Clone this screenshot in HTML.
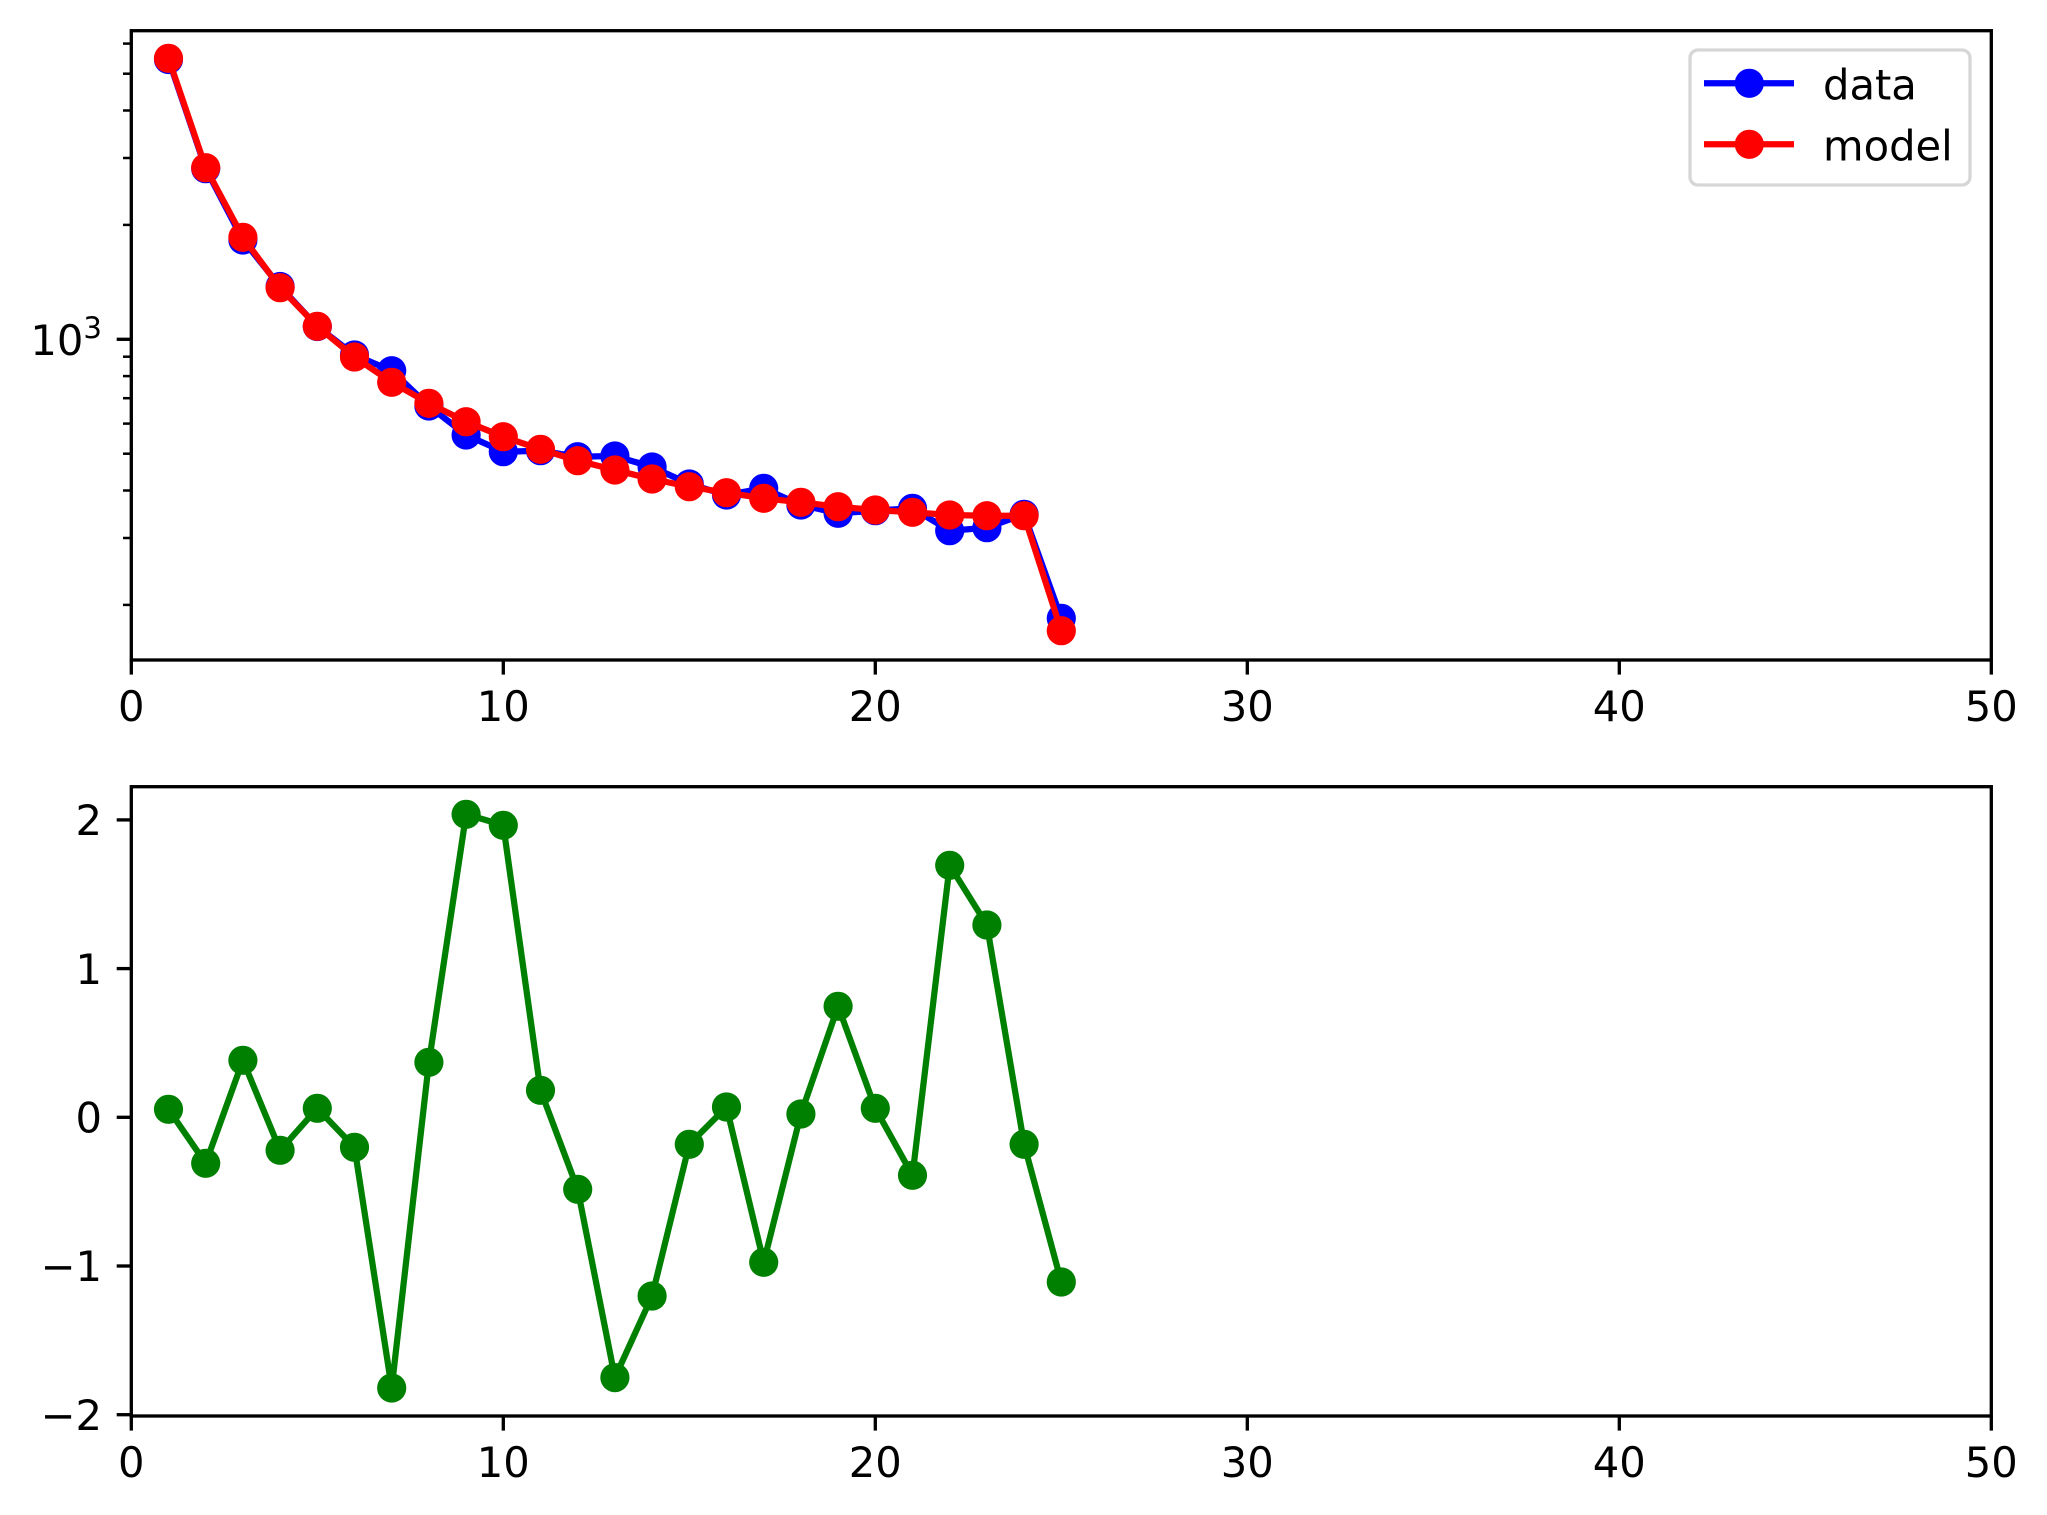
<!DOCTYPE html>
<html>
<head>
<meta charset="utf-8">
<style>
html,body{margin:0;padding:0;background:#fff;}
svg{display:block;}
text{font-family:"DejaVu Sans","Liberation Sans",sans-serif;fill:#000;}
</style>
</head>
<body>
<svg width="2047" height="1515" viewBox="0 0 2047 1515" xmlns="http://www.w3.org/2000/svg">
<rect x="0" y="0" width="2047" height="1515" fill="#fff"/>

<!-- ===== Upper axes ===== -->
<!-- data (blue) -->
<polyline fill="none" stroke="#0000ff" stroke-width="6.25" stroke-linejoin="round"
 points="168.5,59.5 205.7,168.7 242.9,240 280.1,286.5 317.3,326.5 354.5,355 391.7,370.7 428.9,406 466.1,435 503.3,451.7 540.5,450.7 577.7,456.7 614.9,456 652.1,467 689.3,484 726.5,495 763.7,488.3 800.9,505 838.1,513.3 875.3,510.7 912.5,508.3 949.7,530.7 986.9,527.7 1024.1,514.3 1061.3,618.3"/>
<g fill="#0000ff">
<circle cx="168.5" cy="59.5" r="14.6"/><circle cx="205.7" cy="168.7" r="14.6"/><circle cx="242.9" cy="240" r="14.6"/><circle cx="280.1" cy="286.5" r="14.6"/><circle cx="317.3" cy="326.5" r="14.6"/><circle cx="354.5" cy="355" r="14.6"/><circle cx="391.7" cy="370.7" r="14.6"/><circle cx="428.9" cy="406" r="14.6"/><circle cx="466.1" cy="435" r="14.6"/><circle cx="503.3" cy="451.7" r="14.6"/><circle cx="540.5" cy="450.7" r="14.6"/><circle cx="577.7" cy="456.7" r="14.6"/><circle cx="614.9" cy="456" r="14.6"/><circle cx="652.1" cy="467" r="14.6"/><circle cx="689.3" cy="484" r="14.6"/><circle cx="726.5" cy="495" r="14.6"/><circle cx="763.7" cy="488.3" r="14.6"/><circle cx="800.9" cy="505" r="14.6"/><circle cx="838.1" cy="513.3" r="14.6"/><circle cx="875.3" cy="510.7" r="14.6"/><circle cx="912.5" cy="508.3" r="14.6"/><circle cx="949.7" cy="530.7" r="14.6"/><circle cx="986.9" cy="527.7" r="14.6"/><circle cx="1024.1" cy="514.3" r="14.6"/><circle cx="1061.3" cy="618.3" r="14.6"/>
</g>
<!-- model (red) -->
<polyline fill="none" stroke="#ff0000" stroke-width="6.25" stroke-linejoin="round"
 points="168.5,58.3 205.7,167.7 242.9,237.3 280.1,287.7 317.3,326.3 354.5,357 391.7,382.3 428.9,403.3 466.1,421.7 503.3,436.7 540.5,449.3 577.7,460.7 614.9,470 652.1,479 689.3,486.7 726.5,492.7 763.7,498.3 800.9,502.3 838.1,506.7 875.3,510 912.5,512.3 949.7,515 986.9,515.7 1024.1,515.7 1061.3,630.7"/>
<g fill="#ff0000">
<circle cx="168.5" cy="58.3" r="14.6"/><circle cx="205.7" cy="167.7" r="14.6"/><circle cx="242.9" cy="237.3" r="14.6"/><circle cx="280.1" cy="287.7" r="14.6"/><circle cx="317.3" cy="326.3" r="14.6"/><circle cx="354.5" cy="357" r="14.6"/><circle cx="391.7" cy="382.3" r="14.6"/><circle cx="428.9" cy="403.3" r="14.6"/><circle cx="466.1" cy="421.7" r="14.6"/><circle cx="503.3" cy="436.7" r="14.6"/><circle cx="540.5" cy="449.3" r="14.6"/><circle cx="577.7" cy="460.7" r="14.6"/><circle cx="614.9" cy="470" r="14.6"/><circle cx="652.1" cy="479" r="14.6"/><circle cx="689.3" cy="486.7" r="14.6"/><circle cx="726.5" cy="492.7" r="14.6"/><circle cx="763.7" cy="498.3" r="14.6"/><circle cx="800.9" cy="502.3" r="14.6"/><circle cx="838.1" cy="506.7" r="14.6"/><circle cx="875.3" cy="510" r="14.6"/><circle cx="912.5" cy="512.3" r="14.6"/><circle cx="949.7" cy="515" r="14.6"/><circle cx="986.9" cy="515.7" r="14.6"/><circle cx="1024.1" cy="515.7" r="14.6"/><circle cx="1061.3" cy="630.7" r="14.6"/>
</g>

<!-- upper spines -->
<rect x="131.3" y="30.7" width="1860" height="629.3" fill="none" stroke="#000" stroke-width="3.33" stroke-linejoin="miter"/>

<!-- upper x ticks -->
<g stroke="#000" stroke-width="3.33">
<line x1="131.3" y1="660" x2="131.3" y2="674.6"/>
<line x1="503.3" y1="660" x2="503.3" y2="674.6"/>
<line x1="875.3" y1="660" x2="875.3" y2="674.6"/>
<line x1="1247.3" y1="660" x2="1247.3" y2="674.6"/>
<line x1="1619.3" y1="660" x2="1619.3" y2="674.6"/>
<line x1="1991.3" y1="660" x2="1991.3" y2="674.6"/>
<!-- major y tick 10^3 -->
<line x1="116.7" y1="339.3" x2="131.3" y2="339.3"/>
</g>
<!-- minor y ticks -->
<g stroke="#000" stroke-width="2.5">
<line x1="123" y1="604.9" x2="131.3" y2="604.9"/>
<line x1="123" y1="538.0" x2="131.3" y2="538.0"/>
<line x1="123" y1="490.5" x2="131.3" y2="490.5"/>
<line x1="123" y1="453.7" x2="131.3" y2="453.7"/>
<line x1="123" y1="423.6" x2="131.3" y2="423.6"/>
<line x1="123" y1="398.2" x2="131.3" y2="398.2"/>
<line x1="123" y1="376.1" x2="131.3" y2="376.1"/>
<line x1="123" y1="356.7" x2="131.3" y2="356.7"/>
<line x1="123" y1="224.9" x2="131.3" y2="224.9"/>
<line x1="123" y1="158.0" x2="131.3" y2="158.0"/>
<line x1="123" y1="110.5" x2="131.3" y2="110.5"/>
<line x1="123" y1="73.7" x2="131.3" y2="73.7"/>
<line x1="123" y1="43.6" x2="131.3" y2="43.6"/>
</g>

<!-- upper tick labels -->
<g font-size="41.67" text-anchor="middle">
<text x="131.3" y="721">0</text>
<text x="503.3" y="721">10</text>
<text x="875.3" y="721">20</text>
<text x="1247.3" y="721">30</text>
<text x="1619.3" y="721">40</text>
<text x="1991.3" y="721">50</text>
</g>
<text x="102" y="355" font-size="41.67" text-anchor="end">10<tspan dy="-17" font-size="29.2">3</tspan></text>

<!-- legend -->
<rect x="1690" y="50" width="280" height="135" rx="8" ry="8" fill="#fff" fill-opacity="0.8" stroke="#d6d6d6" stroke-width="3.33"/>
<line x1="1704" y1="83.3" x2="1794" y2="83.3" stroke="#0000ff" stroke-width="6.25"/>
<circle cx="1749.3" cy="83.3" r="14.6" fill="#0000ff"/>
<line x1="1704" y1="144.3" x2="1794" y2="144.3" stroke="#ff0000" stroke-width="6.25"/>
<circle cx="1749.3" cy="144.3" r="14.6" fill="#ff0000"/>
<text x="1823" y="99.5" font-size="41.67">data</text>
<text x="1823" y="160.5" font-size="41.67">model</text>

<!-- ===== Lower axes ===== -->
<polyline fill="none" stroke="#008000" stroke-width="6.25" stroke-linejoin="round"
 points="168.5,1109.3 205.7,1163.3 242.9,1060.3 280.1,1150.3 317.3,1108.3 354.5,1147.3 391.7,1388 428.9,1062.3 466.1,814.3 503.3,825.3 540.5,1090.3 577.7,1189.3 614.9,1377.6 652.1,1296 689.3,1144.3 726.5,1107 763.7,1262.3 800.9,1114 838.1,1006.3 875.3,1108.3 912.5,1175.3 949.7,865.3 986.9,925 1024.1,1144.3 1061.3,1282"/>
<g fill="#008000">
<circle cx="168.5" cy="1109.3" r="14.6"/><circle cx="205.7" cy="1163.3" r="14.6"/><circle cx="242.9" cy="1060.3" r="14.6"/><circle cx="280.1" cy="1150.3" r="14.6"/><circle cx="317.3" cy="1108.3" r="14.6"/><circle cx="354.5" cy="1147.3" r="14.6"/><circle cx="391.7" cy="1388" r="14.6"/><circle cx="428.9" cy="1062.3" r="14.6"/><circle cx="466.1" cy="814.3" r="14.6"/><circle cx="503.3" cy="825.3" r="14.6"/><circle cx="540.5" cy="1090.3" r="14.6"/><circle cx="577.7" cy="1189.3" r="14.6"/><circle cx="614.9" cy="1377.6" r="14.6"/><circle cx="652.1" cy="1296" r="14.6"/><circle cx="689.3" cy="1144.3" r="14.6"/><circle cx="726.5" cy="1107" r="14.6"/><circle cx="763.7" cy="1262.3" r="14.6"/><circle cx="800.9" cy="1114" r="14.6"/><circle cx="838.1" cy="1006.3" r="14.6"/><circle cx="875.3" cy="1108.3" r="14.6"/><circle cx="912.5" cy="1175.3" r="14.6"/><circle cx="949.7" cy="865.3" r="14.6"/><circle cx="986.9" cy="925" r="14.6"/><circle cx="1024.1" cy="1144.3" r="14.6"/><circle cx="1061.3" cy="1282" r="14.6"/>
</g>

<rect x="131.3" y="786.7" width="1860" height="629.3" fill="none" stroke="#000" stroke-width="3.33"/>

<g stroke="#000" stroke-width="3.33">
<line x1="131.3" y1="1416" x2="131.3" y2="1430.6"/>
<line x1="503.3" y1="1416" x2="503.3" y2="1430.6"/>
<line x1="875.3" y1="1416" x2="875.3" y2="1430.6"/>
<line x1="1247.3" y1="1416" x2="1247.3" y2="1430.6"/>
<line x1="1619.3" y1="1416" x2="1619.3" y2="1430.6"/>
<line x1="1991.3" y1="1416" x2="1991.3" y2="1430.6"/>
<line x1="116.7" y1="819.9" x2="131.3" y2="819.9"/>
<line x1="116.7" y1="968.6" x2="131.3" y2="968.6"/>
<line x1="116.7" y1="1117.3" x2="131.3" y2="1117.3"/>
<line x1="116.7" y1="1266" x2="131.3" y2="1266"/>
<line x1="116.7" y1="1414.7" x2="131.3" y2="1414.7"/>
</g>

<g font-size="41.67" text-anchor="middle">
<text x="131.3" y="1477">0</text>
<text x="503.3" y="1477">10</text>
<text x="875.3" y="1477">20</text>
<text x="1247.3" y="1477">30</text>
<text x="1619.3" y="1477">40</text>
<text x="1991.3" y="1477">50</text>
</g>
<g font-size="41.67" text-anchor="end">
<text x="102" y="835.1">2</text>
<text x="102" y="983.8">1</text>
<text x="102" y="1132.5">0</text>
<text x="102" y="1281.2">−1</text>
<text x="102" y="1429.9">−2</text>
</g>
</svg>
</body>
</html>
